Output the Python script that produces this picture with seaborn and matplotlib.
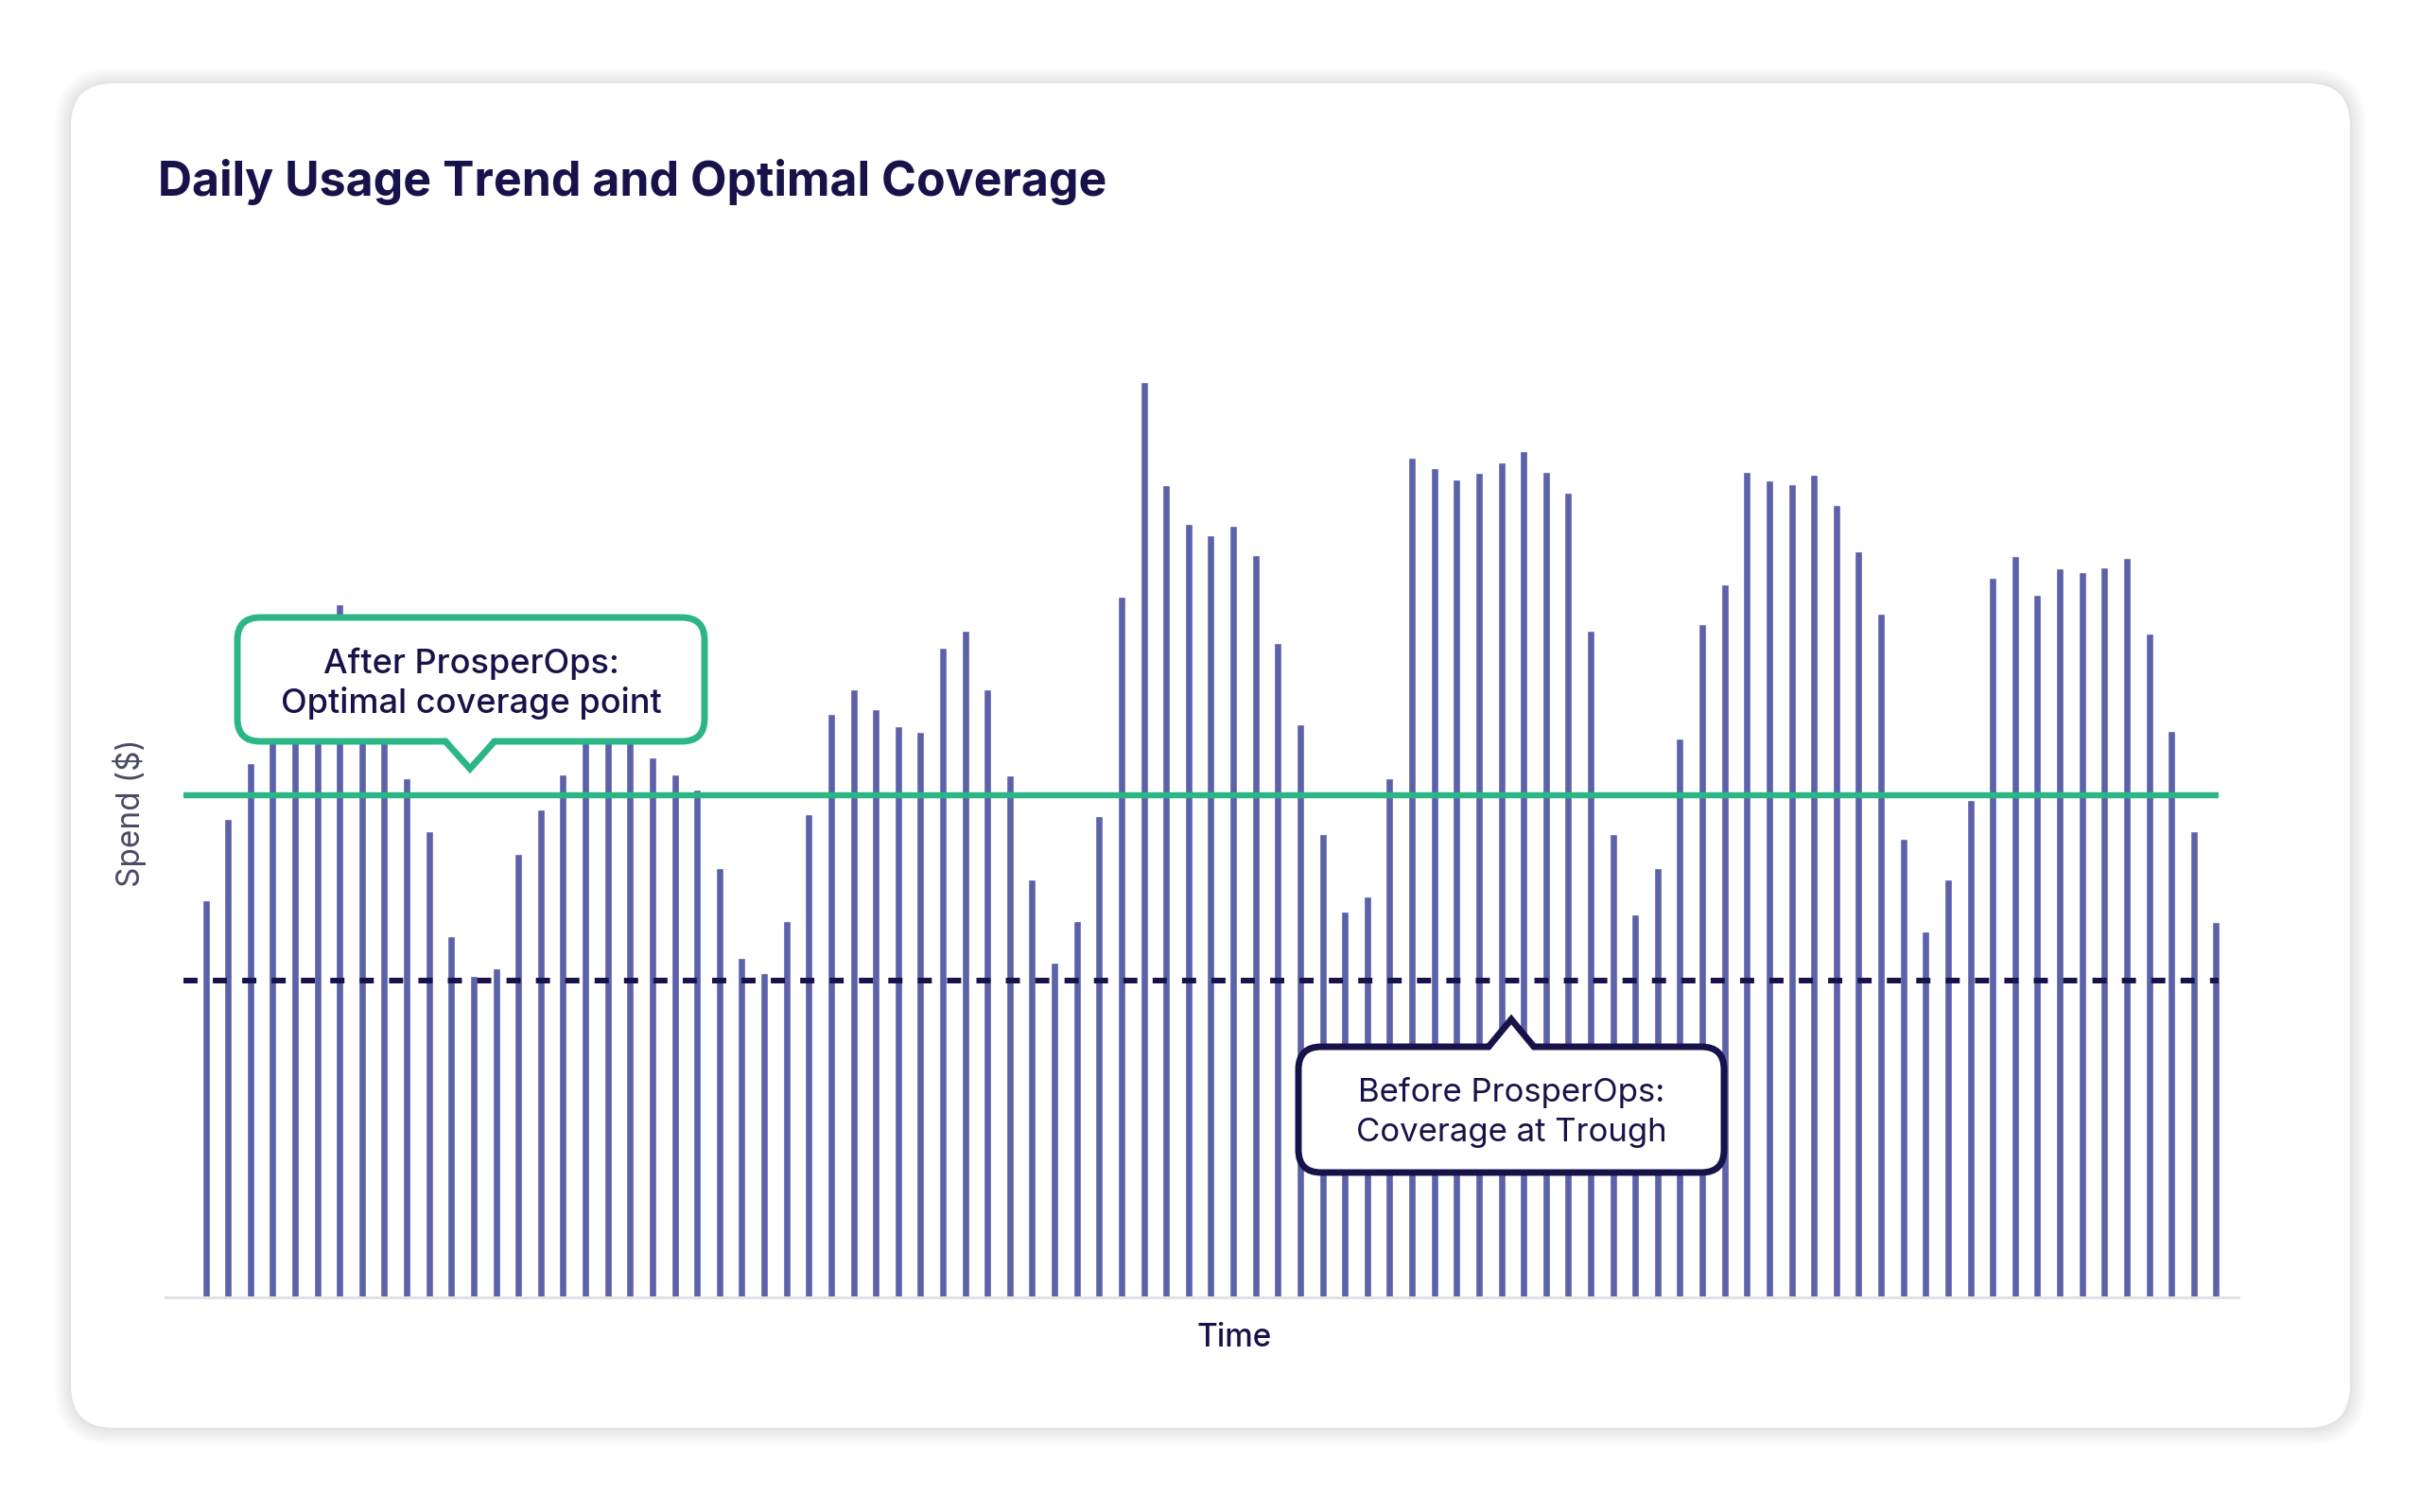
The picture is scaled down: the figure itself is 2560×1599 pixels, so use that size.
import numpy as np
import pandas as pd
import seaborn as sns
import matplotlib.pyplot as plt
from matplotlib.patches import FancyBboxPatch, Polygon

sns.set_theme(style="white")
plt.rcParams['font.family'] = ['Inter', 'DejaVu Sans']

# daily spend (arbitrary $ units)
spend = [
    257, 310, 346, 390, 425, 443, 449, 430, 395, 336,
    302, 234, 208, 213, 287, 316, 339, 375, 395, 380,
    350, 339, 329, 278, 220, 210, 244, 313, 378, 394,
    381, 370, 366, 421, 432, 394, 338, 271, 217, 244,
    312, 454, 593, 526, 501, 494, 500, 481, 424, 371,
    300, 250, 260, 336, 544, 537, 530, 534, 541, 548,
    535, 521, 432, 300, 248, 278, 362, 436, 462, 535,
    529, 527, 533, 513, 483, 443, 297, 237, 271, 322,
    466, 480, 455, 472, 470, 473, 479, 430, 367, 302,
    243,
]
days = list(range(len(spend)))
optimal_coverage = 325.5
trough_coverage = 205.4

title = "Daily Usage Trend and Optimal Coverage"
after_label = ["After ProsperOps:", "Optimal coverage point"]
before_label = ["Before ProsperOps:", "Coverage at Trough"]

navy = "#17134a"
green = "#2bb686"
bar_color = "#5b62a9"

W, H = 2560, 1599
fig = plt.figure(figsize=(W / 100, H / 100), dpi=100)
fig.patch.set_facecolor("white")

# background card (pixel coordinates)
bg = fig.add_axes([0, 0, 1, 1], zorder=0)
bg.set_xlim(0, W)
bg.set_ylim(H, 0)
bg.axis("off")
for k in range(8, 0, -1):
    bg.add_patch(FancyBboxPatch((74 - 2 * k, 87 - 2 * k + 1), 2412 + 4 * k, 1424 + 4 * k,
                                boxstyle="round,pad=0,rounding_size=%d" % (46 + 2 * k),
                                facecolor="#000000", alpha=0.012, edgecolor="none"))
bg.add_patch(FancyBboxPatch((74, 87), 2412, 1424, boxstyle="round,pad=0,rounding_size=46",
                            facecolor="white", edgecolor="#e4e4e8", linewidth=1.5))

# chart
ax = fig.add_axes([175 / W, 1 - 1372 / H, (2367 - 175) / W, (1372 - 326) / H], zorder=1)
ax.set_facecolor("none")
df = pd.DataFrame({"day": days, "spend": spend})
sns.barplot(data=df, x="day", y="spend", color=bar_color, saturation=1, width=0.34, ax=ax)
ax.hlines(optimal_coverage, -1.0, 90.1, color=green, linewidth=4.6, zorder=3)
ax.hlines(trough_coverage, -1.0, 90.1, color=navy, linewidth=4.3, linestyles=(0, (2.5, 2.7)), zorder=3)
ax.set_xlim(-1.8, 91.0)
ax.set_ylim(0, 640.7)
ax.set_xticks([])
ax.set_yticks([])
for side in ["top", "right", "left"]:
    ax.spines[side].set_visible(False)
ax.spines["bottom"].set_color("#e2e2e6")
ax.spines["bottom"].set_linewidth(2.2)
ax.set_xlabel("")
ax.set_ylabel("")

# overlay: title, labels and callouts
ov = fig.add_axes([0, 0, 1, 1], zorder=2)
ov.set_xlim(0, W)
ov.set_ylim(H, 0)
ov.axis("off")
ov.patch.set_alpha(0)

ov.text(167, 207, title, fontsize=36, fontweight="bold", color=navy, ha="left", va="baseline")
ov.text(1305, 1424, "Time", fontsize=24, fontweight="medium", color=navy, ha="center", va="baseline")
ov.text(137, 860, "Spend ($)", fontsize=24, color="#4a4a66", rotation=90, ha="center", va="center")


def callout(x0, y0, x1, y1, tip_x, tip_y, half, color, lines, baselines, weight, size):
    ov.add_patch(FancyBboxPatch((x0, y0), x1 - x0, y1 - y0, boxstyle="round,pad=0,rounding_size=24",
                                facecolor="white", edgecolor=color, linewidth=5, zorder=3))
    base = y1 if tip_y > y1 else y0
    inner = base - 6 if tip_y > y1 else base + 6
    ov.add_patch(Polygon([(tip_x - half, inner), (tip_x, tip_y), (tip_x + half, inner)],
                         closed=True, facecolor="white", edgecolor="none", zorder=4))
    ov.plot([tip_x - half, tip_x, tip_x + half], [base, tip_y, base], color=color, linewidth=5,
            solid_joinstyle="miter", solid_capstyle="butt", zorder=5)
    for txt, yb in zip(lines, baselines):
        ov.text((x0 + x1) / 2, yb, txt, fontsize=size, fontweight=weight, color=navy,
                ha="center", va="baseline", zorder=6)


callout(251, 653, 745, 784, 497, 813, 26, green, after_label, [712, 754], "medium", 26)
callout(1373, 1107, 1823, 1240, 1598, 1078, 24, navy, before_label, [1165, 1207], "normal", 25)

fig.savefig("out.png", dpi=100, facecolor="white")
